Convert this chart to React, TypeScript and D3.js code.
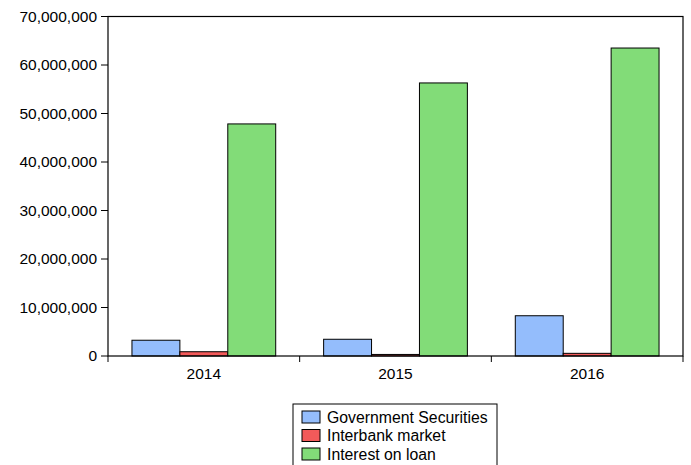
import React from "react";
import * as d3 from "d3";

const years = ["2014", "2015", "2016"];
const seriesNames = ["Government Securities", "Interbank market", "Interest on loan"];
const govSecurities = [3250000, 3450000, 8300000];
const interbank = [880000, 320000, 550000];
const interestLoan = [47850000, 56300000, 63500000];
const yTicks = [0, 10000000, 20000000, 30000000, 40000000, 50000000, 60000000, 70000000];
const colors = ["#94BDFC", "#F25A5A", "#82DC78"];

const W = 691, H = 465;
const L = 108, R = 683, T = 16.5, B = 356;

export default function App() {
  const seriesValues = [govSecurities, interbank, interestLoan];
  const x = d3.scaleBand<string>().domain(years).range([L, R]).paddingInner(0.25).paddingOuter(0.125);
  const xs = d3.scaleBand<number>().domain([0, 1, 2]).range([0, x.bandwidth()]);
  const y = d3.scaleLinear().domain([0, 70000000]).range([B, T]);
  const fmt = d3.format(",");
  const font = "'Liberation Sans', Arial, sans-serif";
  const step = x.step();
  const catTicks = [L, ...years.map((yr) => (x(yr) as number) + x.bandwidth() / 2 + step / 2)];

  return (
    <svg width={W} height={H} style={{ position: "absolute", left: 0, top: 0 }} fontFamily={font}>
      <rect x={0} y={0} width={W} height={H} fill="#fff" />
      {years.map((yr, i) =>
        seriesValues.map((vals, s) => (
          <rect
            key={yr + s}
            x={(x(yr) as number) + (xs(s) as number)}
            y={y(vals[i])}
            width={xs.bandwidth()}
            height={B - y(vals[i])}
            fill={colors[s]}
            stroke="#000"
            strokeWidth={1}
          />
        ))
      )}
      {/* frame */}
      <rect x={L} y={T} width={R - L} height={B - T} fill="none" stroke="#000" strokeWidth={1.2} />
      {/* y ticks */}
      {yTicks.map((t) => (
        <g key={t}>
          <line x1={L - 7} x2={L} y1={y(t)} y2={y(t)} stroke="#000" />
          <text x={L - 11} y={y(t)} dy="0.35em" textAnchor="end" fontSize={15.5} fill="#000">
            {fmt(t)}
          </text>
        </g>
      ))}
      {/* x ticks */}
      {catTicks.map((cx, i) => (
        <line key={i} x1={cx} x2={cx} y1={B} y2={B + 6} stroke="#000" />
      ))}
      {years.map((yr) => (
        <text key={yr} x={(x(yr) as number) + x.bandwidth() / 2} y={379} textAnchor="middle" fontSize={15.5} fill="#000">
          {yr}
        </text>
      ))}
      {/* legend */}
      <rect x={293} y={404} width={204} height={70} fill="#fff" stroke="#000" strokeWidth={1} />
      {seriesNames.map((name, s) => (
        <g key={name}>
          <rect x={302} y={411 + s * 18.5} width={18} height={12} fill={colors[s]} stroke="#000" />
          <text x={327} y={417 + s * 18.5} dy="0.35em" fontSize={15.8} fill="#000">
            {name}
          </text>
        </g>
      ))}
    </svg>
  );
}
